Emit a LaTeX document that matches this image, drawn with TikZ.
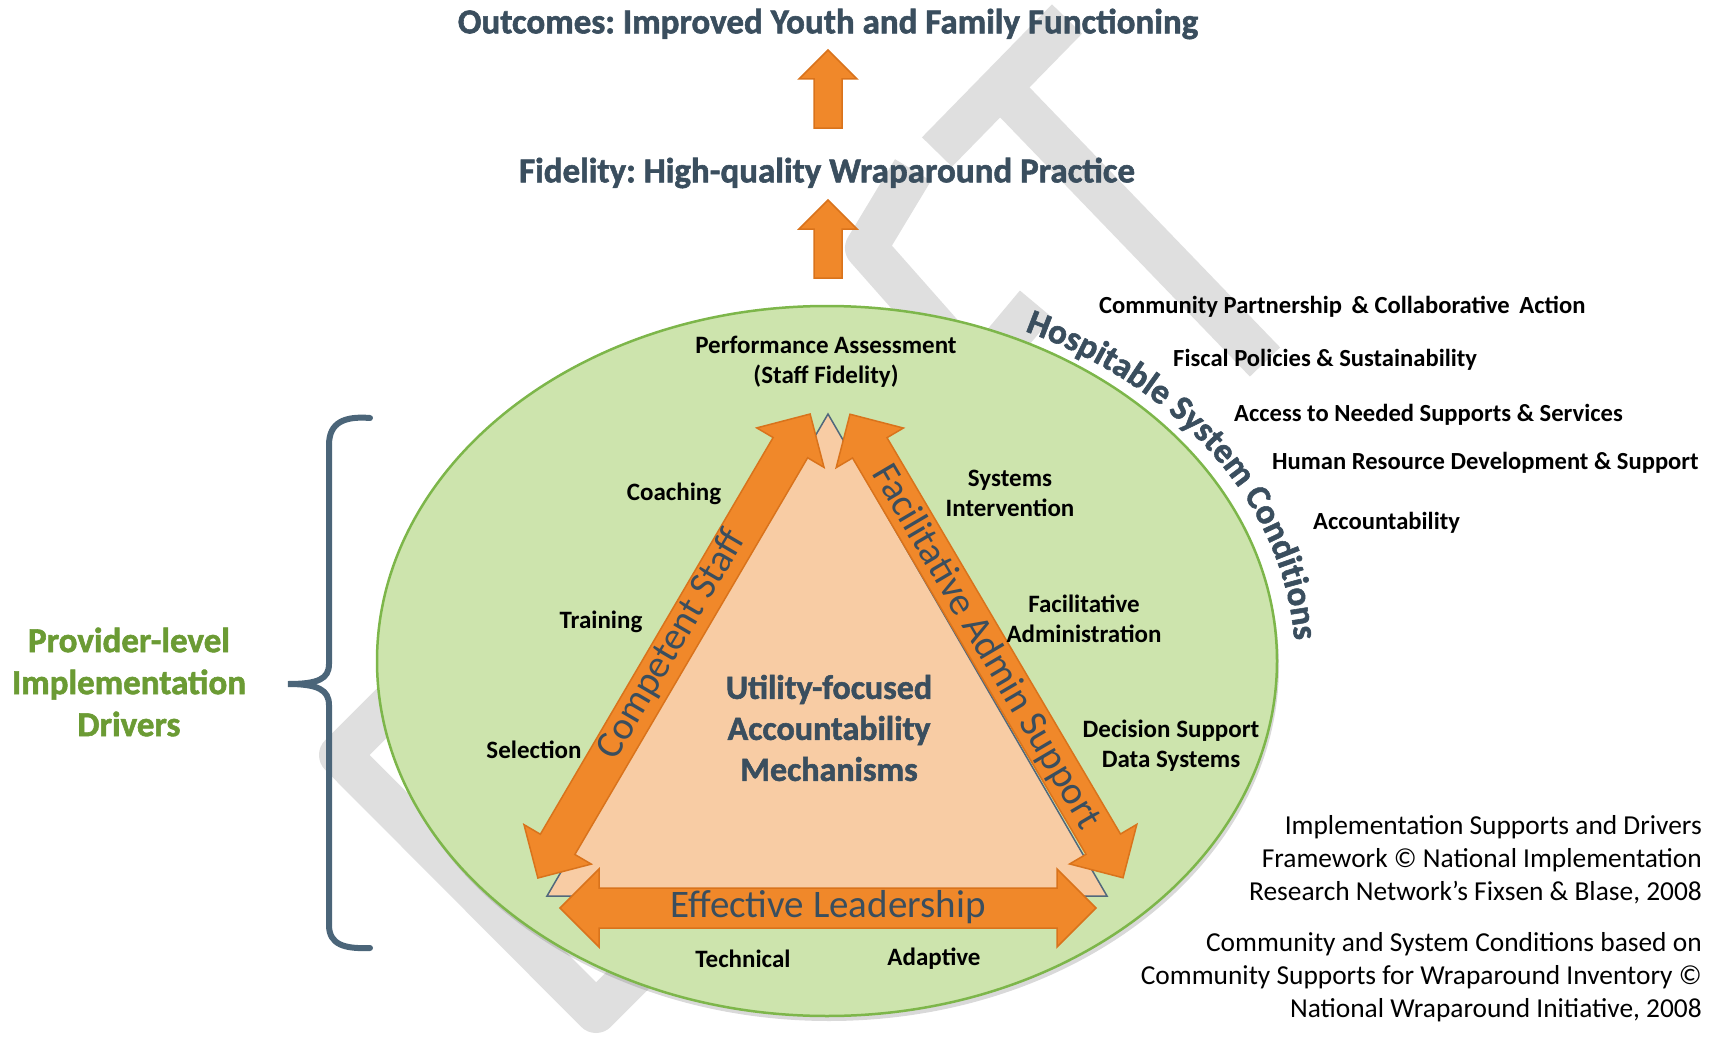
\documentclass[tikz,border=0pt]{standalone}
\usepackage{fontspec}
\setmainfont{Carlito}
\newfontfamily\heavyfont[FakeBold=1.6]{Carlito}
\usetikzlibrary{calc,shadows,shapes.geometric,decorations.text}

\definecolor{slate}{HTML}{3A4E5E}
\definecolor{drvgreen}{HTML}{6B9B34}
\definecolor{ovalfill}{HTML}{CDE4AD}
\definecolor{ovaledge}{HTML}{7DB64A}
\definecolor{peach}{HTML}{F8CCA4}
\definecolor{triedge}{HTML}{51687C}
\definecolor{orangefill}{HTML}{F0882A}
\definecolor{orangeedge}{HTML}{D9731C}
\definecolor{wmgray}{HTML}{DFDFDF}
\definecolor{bracecol}{HTML}{4B6579}

\begin{document}
\frenchspacing
\begin{tikzpicture}[x=1pt,y=-1pt,
  every node/.style={inner sep=0pt},
  title/.style={font=\fontsize{35}{40}\selectfont\heavyfont\bfseries, text=slate},
  lbl/.style={font=\fontsize{25}{30}\selectfont\bfseries, text=black, align=center},
  cond/.style={font=\fontsize{24.6}{30}\selectfont\bfseries, text=black, anchor=west},
  foot/.style={font=\fontsize{27.4}{33}\selectfont, text=black, align=right, anchor=east},
  armtext/.style={font=\fontsize{39}{39}\selectfont, text=slate},
  core/.style={font=\fontsize{34}{41}\selectfont\heavyfont\bfseries, text=slate, align=center},
  drivers/.style={font=\fontsize{35}{42}\selectfont\heavyfont\bfseries, text=drvgreen, align=center},
  band/.style={draw=wmgray, line width=42pt, line join=round},
  blockarrow/.style={fill=orangefill, draw=orangeedge, line width=1.5pt, line join=miter},
]
\useasboundingbox (0,0) rectangle (1717,1041);

% faint background emblem
\draw[band] (1067,19) -- (937,152);
\draw[band] (1000,87) -- (1265,362);
\draw[band] (913,170) -- (866,248) -- (965,360);
\draw[band] (1036,304) -- (985,365);
\draw[band] (440,655) -- (340,755) -- (596,1012) -- (690,918);

% outcome chain at the top
\node[title] (outcomes) at (828,24) {Outcomes: Improved Youth and Family Functioning};
\node[title] (fidelity) at (827,173) {Fidelity: High-quality Wraparound Practice};
\draw[blockarrow] (828,50) -- (857,79) -- (842,79) -- (842,128) -- (814,128) -- (814,79) -- (799,79) -- cycle;
\draw[blockarrow] (828,200) -- (857,229) -- (842,229) -- (842,278) -- (814,278) -- (814,229) -- (799,229) -- cycle;

% provider-level oval
\node[ellipse, minimum width=900pt, minimum height=710pt, fill=ovalfill, draw=ovaledge, line width=2.5pt,
      drop shadow={opacity=0.3, shadow xshift=2pt, shadow yshift=-5pt}] (oval) at (827,661) {};

% accountability triangle
\draw[fill=peach, draw=triedge, line width=1.5pt, line join=miter] (828,414) -- (547,896) -- (1107,896) -- cycle;

% the three driver arrows
\begin{scope}[shift={(674,646)}, rotate=59.6]
\draw[blockarrow] (-269,0) -- (-230,39) -- (-230,20) -- (230,20) -- (230,39) -- (269,0) -- (230,-39) -- (230,-20) -- (-230,-20) -- (-230,-39) -- cycle;
\end{scope}
\begin{scope}[shift={(986.5,646)}, rotate=-59.5]
\draw[blockarrow] (-269,0) -- (-230,39) -- (-230,20) -- (230,20) -- (230,39) -- (269,0) -- (230,-39) -- (230,-20) -- (-230,-20) -- (-230,-39) -- cycle;
\end{scope}
\begin{scope}[shift={(828,908)}]
\draw[blockarrow] (-268,0) -- (-229,39) -- (-229,20) -- (229,20) -- (229,39) -- (268,0) -- (229,-39) -- (229,-20) -- (-229,-20) -- (-229,-39) -- cycle;
\end{scope}
\node[armtext, rotate=59.6] (staff) at (672,645) {Competent Staff};
\node[armtext, rotate=-59.5] (admin) at (986,647) {Facilitative Admin Support};
\node[armtext] (lead) at (828,907) {Effective Leadership};

\node[core] (utility) at (829,728) {Utility-focused\\Accountability\\Mechanisms};

% driver components
\node[lbl] (perf) at (826,362) {Performance Assessment\\(Staff Fidelity)};
\node[lbl] (coach) at (674,494) {Coaching};
\node[lbl] (train) at (601,622) {Training};
\node[lbl] (select) at (534,750) {Selection};
\node[lbl] (sysint) at (1010,493) {Systems\\Intervention};
\node[lbl] (facadm) at (1084,619) {Facilitative\\Administration};
\node[lbl] (dss) at (1171,746) {Decision Support\\Data Systems};
\node[lbl] (tech) at (743,959) {Technical};
\node[lbl] (adapt) at (934,959) {Adaptive};

% system conditions around the oval
\path[decorate, decoration={text along path, text align=left,
  text={|\fontsize{35}{35}\selectfont\heavyfont\bfseries\color{slate}|Hospitable System Conditions}}]
  (827,661) ++(-65:468 and 364) arc[start angle=-65, end angle=20, x radius=468, y radius=364];
\node[cond] (c1) at (1099,307) {Community Partnership \,\& Collaborative \,Action};
\node[cond] (c2) at (1173,360) {Fiscal Policies \& Sustainability};
\node[cond] (c3) at (1234,415) {Access to Needed Supports \& Services};
\node[cond] (c4) at (1272,463) {Human Resource Development \& Support};
\node[cond] (c5) at (1313,523) {Accountability};

% provider-level bracket
\draw[bracecol, line width=6pt, line cap=round]
  (370,418) .. controls (345,416) and (329,422) .. (329,445) -- (329,664)
  .. controls (329,679) and (318,684) .. (288,684)
  .. controls (318,684) and (329,690) .. (329,705) -- (329,925)
  .. controls (329,945) and (345,949) .. (370,948);
\node[drivers] (drivers) at (129,682) {Provider-level\\Implementation\\Drivers};

% credits
\node[foot] (credit1) at (1702,860) {Implementation Supports and Drivers\\Framework © National Implementation\\Research Network’s Fixsen \& Blase, 2008};
\node[foot] (credit2) at (1702,977) {Community and System Conditions based on\\Community Supports for Wraparound Inventory ©\\National Wraparound Initiative, 2008};
\end{tikzpicture}
\end{document}
